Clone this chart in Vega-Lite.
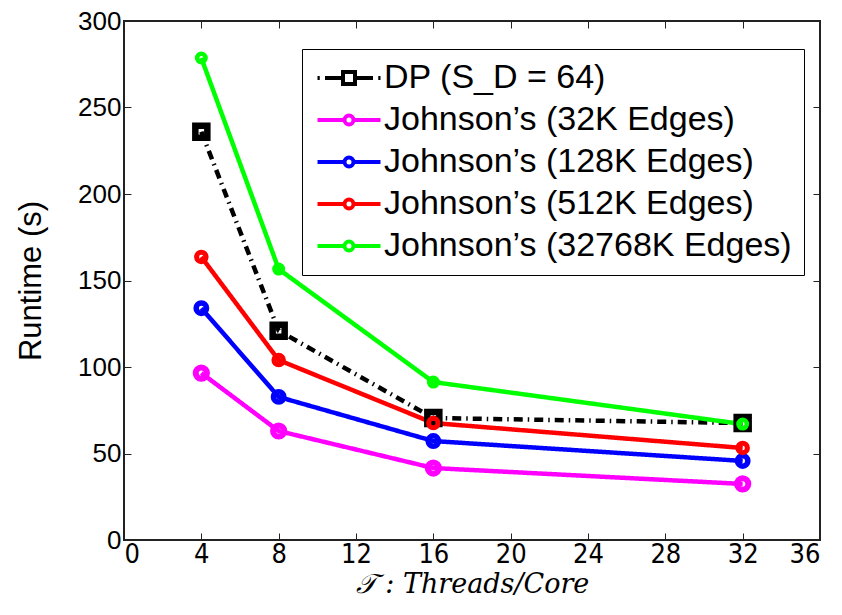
{
  "$schema": "https://vega.github.io/schema/vega-lite/v6.json",
  "width": 696,
  "height": 519,
  "autosize": "none",
  "padding": {"left": 124, "top": 21, "right": 22, "bottom": 75},
  "background": "white",
  "config": {
    "view": {"stroke": "#222", "strokeWidth": 2},
    "font": "Liberation Sans",
    "axis": {"grid": false, "domain": false, "tickColor": "#222", "tickWidth": 1, "tickSize": -7, "labelColor": "black", "titleColor": "black"}
  },
  "data": {
    "values": [
      {"series": "DP (S_D = 64)", "x": 4, "y": 236},
      {"series": "DP (S_D = 64)", "x": 8, "y": 121},
      {"series": "DP (S_D = 64)", "x": 16, "y": 70.5},
      {"series": "DP (S_D = 64)", "x": 32, "y": 67.6},
      {"series": "Johnson’s (32K Edges)", "x": 4, "y": 96.5},
      {"series": "Johnson’s (32K Edges)", "x": 8, "y": 63},
      {"series": "Johnson’s (32K Edges)", "x": 16, "y": 41.6},
      {"series": "Johnson’s (32K Edges)", "x": 32, "y": 32.4},
      {"series": "Johnson’s (128K Edges)", "x": 4, "y": 134},
      {"series": "Johnson’s (128K Edges)", "x": 8, "y": 82.7},
      {"series": "Johnson’s (128K Edges)", "x": 16, "y": 57.2},
      {"series": "Johnson’s (128K Edges)", "x": 32, "y": 45.7},
      {"series": "Johnson’s (512K Edges)", "x": 4, "y": 163.6},
      {"series": "Johnson’s (512K Edges)", "x": 8, "y": 104},
      {"series": "Johnson’s (512K Edges)", "x": 16, "y": 67.6},
      {"series": "Johnson’s (512K Edges)", "x": 32, "y": 53.2},
      {"series": "Johnson’s (32768K Edges)", "x": 4, "y": 278.6},
      {"series": "Johnson’s (32768K Edges)", "x": 8, "y": 156.6},
      {"series": "Johnson’s (32768K Edges)", "x": 16, "y": 91.3},
      {"series": "Johnson’s (32768K Edges)", "x": 32, "y": 67}
    ]
  },
  "layer": [
    {
      "mark": {"type": "line", "strokeWidth": 4.5},
      "encoding": {
        "x": {"field": "x", "type": "quantitative", "scale": {"domain": [0, 36], "nice": false},
              "axis": {"orient": "bottom", "values": [0,4,8,12,16,20,24,28,32,36], "labelFontSize": 27, "labelFont": "'Liberation Sans Narrow', 'DejaVu Sans Condensed', 'Liberation Sans'", "labelPadding": 8, "title": "𝒯 : Threads/Core", "titleFont": "DejaVu Serif", "titleFontStyle": "italic", "titleFontWeight": "normal", "titleFontSize": 27, "titlePadding": 4}},
        "y": {"field": "y", "type": "quantitative", "scale": {"domain": [0, 300], "nice": false},
              "axis": {"orient": "left", "values": [0,50,100,150,200,250,300], "labelFont": "Liberation Sans", "labelFontSize": 26, "labelPadding": 10, "title": "Runtime (s)", "titleFont": "Liberation Sans", "titleFontSize": 31, "titleFontWeight": "normal", "titlePadding": 30}},
        "color": {"field": "series", "type": "nominal", "legend": null,
                  "scale": {"domain": ["DP (S_D = 64)", "Johnson’s (32K Edges)", "Johnson’s (128K Edges)", "Johnson’s (512K Edges)", "Johnson’s (32768K Edges)"],
                            "range": ["#000000", "#ff00ff", "#0000ff", "#ff0000", "#00ff00"]}},
        "strokeDash": {"field": "series", "type": "nominal", "legend": null,
                  "scale": {"domain": ["DP (S_D = 64)", "Johnson’s (32K Edges)", "Johnson’s (128K Edges)", "Johnson’s (512K Edges)", "Johnson’s (32768K Edges)"],
                            "range": [[9, 5, 1.5, 5], [1, 0], [1, 0], [1, 0], [1, 0]]}},
        "order": {"field": "x", "type": "quantitative"}
      }
    },
    {
      "mark": {"type": "point", "filled": false, "opacity": 1},
      "encoding": {
        "x": {"field": "x", "type": "quantitative", "scale": {"domain": [0, 36], "nice": false}, "axis": null},
        "y": {"field": "y", "type": "quantitative", "scale": {"domain": [0, 300], "nice": false}, "axis": null},
        "color": {"field": "series", "type": "nominal", "legend": null,
                  "scale": {"domain": ["DP (S_D = 64)", "Johnson’s (32K Edges)", "Johnson’s (128K Edges)", "Johnson’s (512K Edges)", "Johnson’s (32768K Edges)"],
                            "range": ["#000000", "#ff00ff", "#0000ff", "#ff0000", "#00ff00"]}},
        "shape": {"field": "series", "type": "nominal", "legend": null,
                  "scale": {"domain": ["DP (S_D = 64)", "Johnson’s (32K Edges)", "Johnson’s (128K Edges)", "Johnson’s (512K Edges)", "Johnson’s (32768K Edges)"],
                            "range": ["square", "circle", "circle", "circle", "circle"]}},
        "size": {"field": "series", "type": "nominal", "legend": null,
                  "scale": {"domain": ["DP (S_D = 64)", "Johnson’s (32K Edges)", "Johnson’s (128K Edges)", "Johnson’s (512K Edges)", "Johnson’s (32768K Edges)"],
                            "range": [144, 72, 72, 72, 72]}},
        "strokeWidth": {"field": "series", "type": "nominal", "legend": null,
                  "scale": {"domain": ["DP (S_D = 64)", "Johnson’s (32K Edges)", "Johnson’s (128K Edges)", "Johnson’s (512K Edges)", "Johnson’s (32768K Edges)"],
                            "range": [6.5, 4.5, 4.5, 4.5, 4.5]}}
      }
    },
    {
      "mark": {"type": "point", "filled": false, "opacity": 0},
      "encoding": {
        "x": {"field": "x", "type": "quantitative", "scale": {"domain": [0, 36], "nice": false},
              "axis": {"orient": "top", "labels": false, "title": null, "values": [0,4,8,12,16,20,24,28,32,36]}},
        "y": {"field": "y", "type": "quantitative", "scale": {"domain": [0, 300], "nice": false},
              "axis": {"orient": "right", "labels": false, "title": null, "values": [0,50,100,150,200,250,300]}},
        "color": {"field": "series", "type": "nominal",
                  "scale": {"domain": ["DP (S_D = 64)", "Johnson’s (32K Edges)", "Johnson’s (128K Edges)", "Johnson’s (512K Edges)", "Johnson’s (32768K Edges)"],
                            "range": ["#000000", "#ff00ff", "#0000ff", "#ff0000", "#00ff00"]},
                  "legend": {"title": null, "orient": "none", "legendX": 178, "legendY": 28, "padding": 12,
                             "strokeColor": "black", "fillColor": "white",
                             "symbolOpacity": 1, "symbolStrokeWidth": 4, "symbolSize": 900, "symbolOffset": 18,
                             "labelFont": "Liberation Sans", "labelFontSize": 34, "labelOffset": 18, "rowPadding": 8, "labelColor": "black", "labelLimit": 600}},
        "shape": {"field": "series", "type": "nominal",
                  "scale": {"domain": ["DP (S_D = 64)", "Johnson’s (32K Edges)", "Johnson’s (128K Edges)", "Johnson’s (512K Edges)", "Johnson’s (32768K Edges)"],
                            "range": ["M-2.1,0H-1.95M-1.6,0H-0.4M0.4,0H1.6M1.95,0H2.1M-0.4,-0.4H0.4V0.4H-0.4Z",
                                      "M-2.1,0H-0.3M0.3,0H2.1M-0.3,0A0.3,0.3,0,1,1,0.3,0A0.3,0.3,0,1,1,-0.3,0",
                                      "M-2.1,0H-0.3M0.3,0H2.1M-0.3,0A0.3,0.3,0,1,1,0.3,0A0.3,0.3,0,1,1,-0.3,0",
                                      "M-2.1,0H-0.3M0.3,0H2.1M-0.3,0A0.3,0.3,0,1,1,0.3,0A0.3,0.3,0,1,1,-0.3,0",
                                      "M-2.1,0H-0.3M0.3,0H2.1M-0.3,0A0.3,0.3,0,1,1,0.3,0A0.3,0.3,0,1,1,-0.3,0"]},
                  "legend": {"title": null, "orient": "none", "legendX": 178, "legendY": 28, "padding": 12,
                             "strokeColor": "black", "fillColor": "white",
                             "symbolOpacity": 1, "symbolStrokeWidth": 4, "symbolSize": 900, "symbolOffset": 18,
                             "labelFont": "Liberation Sans", "labelFontSize": 34, "labelOffset": 18, "rowPadding": 8, "labelColor": "black", "labelLimit": 600}}
      }
    }
  ],
  "resolve": {
    "scale": {"color": "independent", "shape": "independent", "strokeDash": "independent", "size": "independent", "strokeWidth": "independent"},
    "axis": {"x": "independent", "y": "independent"}
  }
}
